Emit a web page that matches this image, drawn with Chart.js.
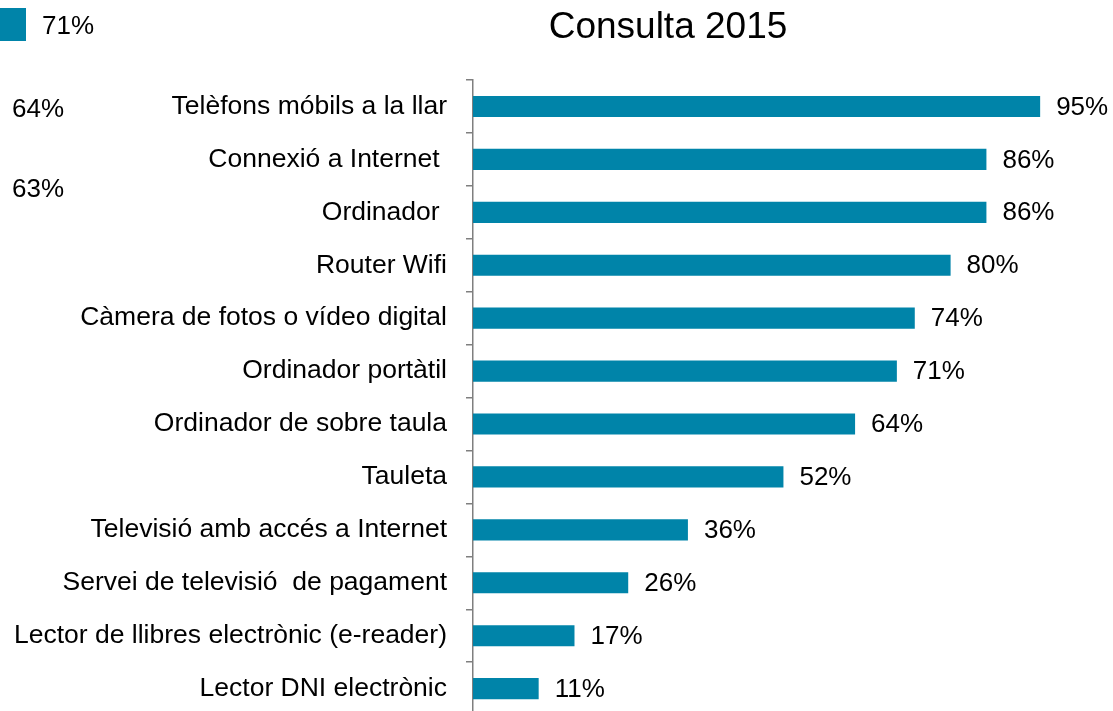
<!DOCTYPE html>
<html>
<head>
<meta charset="utf-8">
<script src="https://cdn.jsdelivr.net/npm/chart.js@4"></script>
<style>
  html, body { margin: 0; padding: 0; background: #fff; overflow: hidden; }
  #wrap { position: relative; width: 1113px; height: 750px; }
  .side { position: absolute; font-family: "Liberation Sans", Arial, sans-serif; font-size: 26px; color: #000; line-height: 30px; }
  .swatch { position: absolute; left: 0; top: 8px; width: 26px; height: 33px; background: #0084A9; }
</style>
</head>
<body>
<div id="wrap">
  <canvas id="chart" width="1113" height="750"></canvas>
  <div class="swatch"></div>
  <div class="side" style="left:42px; top:10px;">71%</div>
  <div class="side" style="left:12px; top:93px;">64%</div>
  <div class="side" style="left:12px; top:173px;">63%</div>
</div>
<script>
const categories = [
  'Telèfons móbils a la llar',
  'Connexió a Internet ',
  'Ordinador ',
  'Router Wifi',
  'Càmera de fotos o vídeo digital',
  'Ordinador portàtil',
  'Ordinador de sobre taula',
  'Tauleta',
  'Televisió amb accés a Internet',
  'Servei de televisió  de pagament',
  'Lector de llibres electrònic (e-reader)',
  'Lector DNI electrònic'
];
const values2015 = [95, 86, 86, 80, 74, 71, 64, 52, 36, 26, 17, 11];
const chartTitle = 'Consulta 2015';

const FONT = '"Liberation Sans", Arial, sans-serif';

// title sits off-centre in the original slide, so it is drawn by hand
const slideTitle = {
  id: 'slideTitle',
  afterDraw(chart) {
    const ctx = chart.ctx;
    ctx.save();
    ctx.font = '37px ' + FONT;
    ctx.fillStyle = '#000';
    ctx.textAlign = 'center';
    ctx.textBaseline = 'middle';
    ctx.fillText(chartTitle, 668, 28);
    ctx.restore();
  }
};

// draws the "95%" style labels at the end of each bar
const barLabels = {
  id: 'barLabels',
  afterDatasetsDraw(chart) {
    const ctx = chart.ctx;
    const meta = chart.getDatasetMeta(0);
    ctx.save();
    ctx.font = '26px ' + FONT;
    ctx.fillStyle = '#000';
    ctx.textAlign = 'left';
    ctx.textBaseline = 'middle';
    meta.data.forEach((bar, i) => {
      ctx.fillText(values2015[i] + '%', bar.x + 16, bar.y + 1);
    });
    ctx.restore();
  }
};

new Chart(document.getElementById('chart'), {
  type: 'bar',
  data: {
    labels: categories,
    datasets: [{
      data: values2015,
      backgroundColor: '#0084A9',
      borderWidth: 0,
      categoryPercentage: 1,
      barPercentage: 0.4
    }]
  },
  options: {
    indexAxis: 'y',
    responsive: false,
    animation: false,
    layout: { padding: { left: 0, right: 43, top: 80, bottom: 0 } },
    plugins: {
      legend: { display: false },
      tooltip: { enabled: false },
      title: { display: false }
    },
    scales: {
      x: {
        display: false,
        min: 0,
        max: 100
      },
      y: {
        afterFit(scale) { scale.width = 473; },
        grid: {
          display: true,
          drawOnChartArea: false,
          drawTicks: true,
          tickLength: 7,
          color: '#7f7f7f',
          lineWidth: 1.5,
          offset: true
        },
        border: { display: true, color: '#7f7f7f', width: 1.5 },
        ticks: {
          color: '#000',
          padding: 19,
          font: { family: FONT, size: 26.5 }
        }
      }
    }
  },
  plugins: [barLabels, slideTitle]
});
</script>
</body>
</html>
